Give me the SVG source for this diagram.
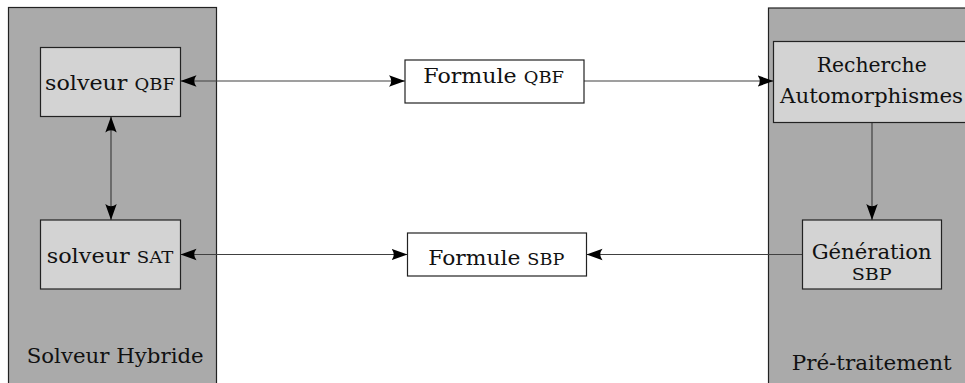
<svg xmlns="http://www.w3.org/2000/svg" width="965" height="383" viewBox="0 0 965 383">
<style>
.panel{fill:#aaaaaa;stroke:#222;stroke-width:1.2}
.box{fill:#d3d3d3;stroke:#222;stroke-width:1.2}
.wbox{fill:#ffffff;stroke:#222;stroke-width:1.2}
text{font-family:'DejaVu Serif',serif;font-size:21px;fill:#111}
.sc{font-size:17px}
.c{stroke:#404040;stroke-width:1.2;fill:none}
</style>
<defs>
<marker id="ah" markerUnits="userSpaceOnUse" markerWidth="17" markerHeight="13" refX="16" refY="6.5" orient="auto-start-reverse" viewBox="0 0 17 13">
<path d="M0,0.8 Q4.5,6.5 0,12.2 L16,6.5 Z" fill="#000"/>
</marker>
</defs>
<g id="panel-hybride">
<rect class="panel" x="8.5" y="7.5" width="208" height="385"/>
<text x="26.7" y="362.7" textLength="177" lengthAdjust="spacingAndGlyphs">Solveur Hybride</text>
</g>
<g id="panel-pretraitement">
<rect class="panel" x="768.5" y="8" width="215" height="385"/>
<text x="791.7" y="370" textLength="160" lengthAdjust="spacingAndGlyphs">Pré-traitement</text>
</g>
<g id="connectors">
<line class="c" x1="180.5" y1="81" x2="405" y2="81" marker-start="url(#ah)" marker-end="url(#ah)"/>
<line class="c" x1="584" y1="81" x2="773.5" y2="81" marker-end="url(#ah)"/>
<line class="c" x1="111" y1="116.5" x2="111" y2="220" marker-start="url(#ah)" marker-end="url(#ah)"/>
<line class="c" x1="872" y1="122.5" x2="872" y2="220" marker-end="url(#ah)"/>
<line class="c" x1="180.5" y1="254.5" x2="407.5" y2="254.5" marker-start="url(#ah)" marker-end="url(#ah)"/>
<line class="c" x1="802.5" y1="254.5" x2="586.5" y2="254.5" marker-end="url(#ah)"/>
</g>
<g id="solveur-qbf">
<rect class="box" x="40.5" y="47.5" width="140" height="69"/>
<text x="45" y="89.5" textLength="130" lengthAdjust="spacingAndGlyphs">solveur <tspan class="sc">QBF</tspan></text>
</g>
<g id="solveur-sat">
<rect class="box" x="40.5" y="220" width="140" height="69"/>
<text x="46.7" y="263" textLength="126.7" lengthAdjust="spacingAndGlyphs">solveur <tspan class="sc">SAT</tspan></text>
</g>
<g id="formule-qbf">
<rect class="wbox" x="405" y="60" width="179" height="43"/>
<text x="423.3" y="82.5" textLength="140.7" lengthAdjust="spacingAndGlyphs">Formule <tspan class="sc">QBF</tspan></text>
</g>
<g id="formule-sbp">
<rect class="wbox" x="407.5" y="233" width="179" height="43"/>
<text x="428.3" y="264.7" textLength="136" lengthAdjust="spacingAndGlyphs">Formule <tspan class="sc">SBP</tspan></text>
</g>
<g id="recherche">
<rect class="box" x="773.5" y="41.5" width="210" height="81"/>
<text x="816.7" y="71.7" textLength="110" lengthAdjust="spacingAndGlyphs">Recherche</text>
<text x="780" y="103.3" textLength="183" lengthAdjust="spacingAndGlyphs">Automorphismes</text>
</g>
<g id="generation">
<rect class="box" x="802.5" y="220" width="139" height="69"/>
<text x="811.7" y="259" textLength="120" lengthAdjust="spacingAndGlyphs">Génération</text>
<text x="851.7" y="280" style="font-size:16px" textLength="40" lengthAdjust="spacingAndGlyphs">SBP</text>
</g>
</svg>
